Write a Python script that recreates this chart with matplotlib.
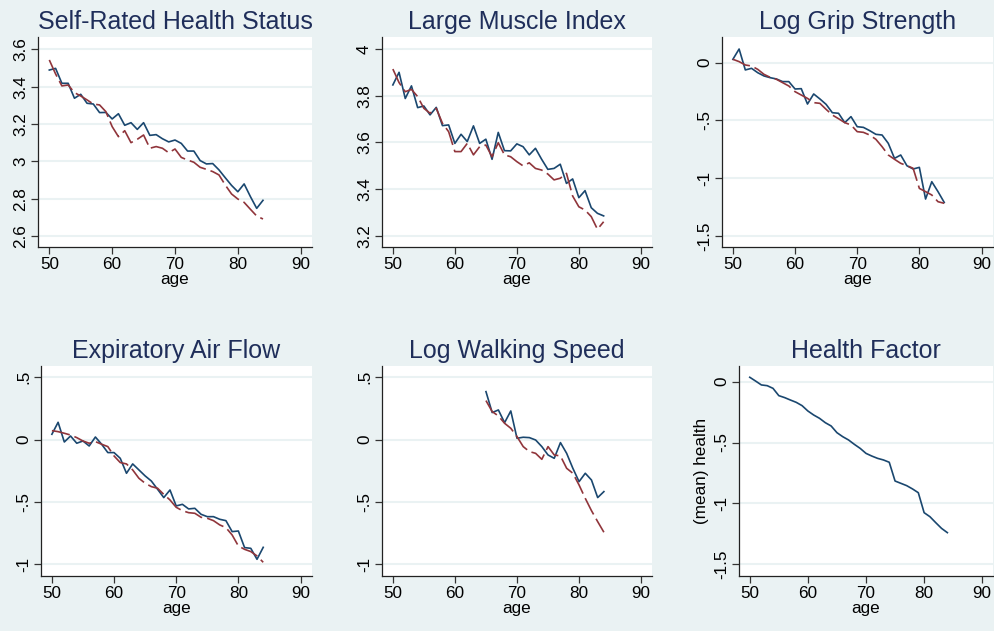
import matplotlib
matplotlib.use("Agg")
import matplotlib.pyplot as plt

plt.rcParams["font.family"] = ["Liberation Sans", "DejaVu Sans"]

BG = "#EAF2F3"
NAVY = "#1A476F"
MAROON = "#90353B"
TITLE = "#1F2E5A"

ages = list(range(50, 85))
ages_walk = list(range(65, 85))

srh_obs = [3.489, 3.498, 3.418, 3.418, 3.338, 3.359, 3.311, 3.307, 3.261, 3.262,
           3.227, 3.255, 3.193, 3.207, 3.171, 3.207, 3.139, 3.143, 3.121, 3.104,
           3.114, 3.096, 3.055, 3.055, 3.004, 2.986, 2.988, 2.954, 2.912, 2.871,
           2.837, 2.879, 2.811, 2.748, 2.791]
srh_fit = [3.543, 3.468, 3.404, 3.409, 3.368, 3.350, 3.329, 3.307, 3.302, 3.266,
           3.186, 3.132, 3.164, 3.100, 3.118, 3.141, 3.070, 3.079, 3.070, 3.046,
           3.066, 3.021, 3.007, 2.995, 2.968, 2.957, 2.945, 2.927, 2.873, 2.825,
           2.798, 2.780, 2.743, 2.707, 2.691]

lmi_obs = [3.846, 3.900, 3.788, 3.842, 3.749, 3.756, 3.718, 3.750, 3.672, 3.675,
           3.596, 3.635, 3.604, 3.671, 3.596, 3.614, 3.528, 3.643, 3.565, 3.564,
           3.594, 3.582, 3.547, 3.575, 3.528, 3.485, 3.489, 3.507, 3.425, 3.444,
           3.364, 3.394, 3.321, 3.297, 3.286]
lmi_fit = [3.914, 3.856, 3.817, 3.827, 3.796, 3.746, 3.725, 3.746, 3.682, 3.646,
           3.561, 3.561, 3.596, 3.547, 3.582, 3.589, 3.539, 3.599, 3.547, 3.539,
           3.518, 3.500, 3.513, 3.489, 3.482, 3.465, 3.440, 3.447, 3.468, 3.371,
           3.325, 3.311, 3.283, 3.229, 3.261]

grip_obs = [0.029, 0.118, -0.063, -0.049, -0.087, -0.115, -0.130, -0.141, -0.164, -0.164,
            -0.228, -0.225, -0.358, -0.271, -0.314, -0.361, -0.433, -0.438, -0.519, -0.467,
            -0.554, -0.560, -0.588, -0.620, -0.626, -0.698, -0.828, -0.799, -0.892, -0.920,
            -0.906, -1.180, -1.030, -1.116, -1.209]
grip_fit = [0.029, 0.009, -0.020, -0.029, -0.058, -0.101, -0.127, -0.144, -0.173, -0.202,
            -0.251, -0.280, -0.309, -0.346, -0.352, -0.404, -0.453, -0.485, -0.519, -0.539,
            -0.597, -0.603, -0.626, -0.663, -0.727, -0.799, -0.836, -0.871, -0.891, -0.914,
            -1.088, -1.116, -1.145, -1.203, -1.217]

air_obs = [0.043, 0.139, -0.019, 0.029, -0.029, -0.011, -0.051, 0.021, -0.037, -0.104,
           -0.104, -0.150, -0.270, -0.195, -0.243, -0.291, -0.332, -0.398, -0.465, -0.404,
           -0.532, -0.519, -0.556, -0.551, -0.599, -0.618, -0.618, -0.639, -0.650, -0.738,
           -0.733, -0.866, -0.872, -0.960, -0.864]
air_fit = [0.072, 0.064, 0.051, 0.037, 0.016, -0.011, -0.029, -0.016, -0.037, -0.056,
           -0.131, -0.184, -0.195, -0.243, -0.310, -0.350, -0.377, -0.390, -0.439, -0.484,
           -0.543, -0.570, -0.586, -0.591, -0.623, -0.631, -0.650, -0.684, -0.706, -0.765,
           -0.853, -0.880, -0.898, -0.933, -0.984]

walk_obs = [0.385, 0.217, 0.238, 0.136, 0.230, 0.011, 0.019, 0.016, -0.003, -0.056,
            -0.123, -0.150, -0.024, -0.110, -0.230, -0.337, -0.270, -0.324, -0.465, -0.417]
walk_fit = [0.313, 0.225, 0.190, 0.131, 0.091, 0.024, -0.056, -0.096, -0.110, -0.158,
            -0.056, -0.123, -0.131, -0.230, -0.270, -0.364, -0.471, -0.570, -0.658, -0.743]

health = [0.036, 0.005, -0.027, -0.033, -0.055, -0.115, -0.131, -0.151, -0.170, -0.197,
          -0.241, -0.274, -0.301, -0.337, -0.364, -0.419, -0.452, -0.479, -0.515, -0.548,
          -0.589, -0.611, -0.630, -0.643, -0.662, -0.816, -0.835, -0.854, -0.881, -0.912,
          -1.076, -1.109, -1.158, -1.205, -1.240]

W, H = 995, 631
fig = plt.figure(figsize=(W / 100, H / 100), dpi=100, facecolor=BG)


def make_ax(l, r, t, b):
    return fig.add_axes([l / W, 1 - b / H, (r - l) / W, (b - t) / H])


def style(ax, title, ylim, yticks, ylabels, ylabel=None):
    ax.set_facecolor("white")
    for s in ("top", "right"):
        ax.spines[s].set_visible(False)
    for s in ("left", "bottom"):
        ax.spines[s].set_color("#222222")
        ax.spines[s].set_linewidth(0.9)
    ax.set_xlim(48.2, 91.8)
    ax.set_ylim(*ylim)
    ax.set_xticks([50, 60, 70, 80, 90])
    ax.set_yticks(yticks)
    ax.set_yticklabels(ylabels, rotation=90, va="center")
    ax.tick_params(labelsize=12.3, length=5, width=0.9, color="#333333", pad=2)
    ax.grid(axis="y", color=BG, linewidth=1.5)
    ax.set_axisbelow(True)
    ax.set_xlabel("age", fontsize=12.3, labelpad=0)
    if ylabel:
        ax.set_ylabel(ylabel, fontsize=12.3, labelpad=4)
    ax.set_title(title, fontsize=18, color=TITLE, pad=5.5)


def draw(ax, x, obs, fit=None):
    ax.plot(x, obs, color=NAVY, lw=1.2)
    if fit is not None:
        ax.plot(x, fit, color=MAROON, lw=1.2, ls=(0, (11, 3)))


ax1 = make_ax(38, 312, 37, 247)
draw(ax1, ages, srh_obs, srh_fit)
style(ax1, "Self-Rated Health Status", (2.541, 3.666),
      [2.6, 2.8, 3.0, 3.2, 3.4, 3.6], ["2.6", "2.8", "3", "3.2", "3.4", "3.6"])

ax2 = make_ax(381.7, 652, 37, 247)
draw(ax2, ages, lmi_obs, lmi_fit)
style(ax2, "Large Muscle Index", (3.153, 4.051),
      [3.2, 3.4, 3.6, 3.8, 4.0], ["3.2", "3.4", "3.6", "3.8", "4"])

ax3 = make_ax(721.7, 992.7, 37, 247)
draw(ax3, ages, grip_obs, grip_fit)
style(ax3, "Log Grip Strength", (-1.595, 0.222),
      [0, -0.5, -1, -1.5], ["0", "-.5", "-1", "-1.5"])

ax4 = make_ax(40.7, 311.7, 365.7, 576)
draw(ax4, ages, air_obs, air_fit)
style(ax4, "Expiratory Air Flow", (-1.094, 0.593),
      [0.5, 0, -0.5, -1], [".5", "0", "-.5", "-1"])

ax5 = make_ax(381.7, 652.3, 365.7, 576)
draw(ax5, ages_walk, walk_obs, walk_fit)
style(ax5, "Log Walking Speed", (-1.094, 0.593),
      [0.5, 0, -0.5, -1], [".5", "0", "-.5", "-1"])

ax6 = make_ax(739.3, 992.7, 365.7, 576)
draw(ax6, ages, health)
style(ax6, "Health Factor", (-1.596, 0.131),
      [0, -0.5, -1, -1.5], ["0", "-.5", "-1", "-1.5"], ylabel="(mean) health")

fig.savefig("out.png", dpi=100, facecolor=BG)
